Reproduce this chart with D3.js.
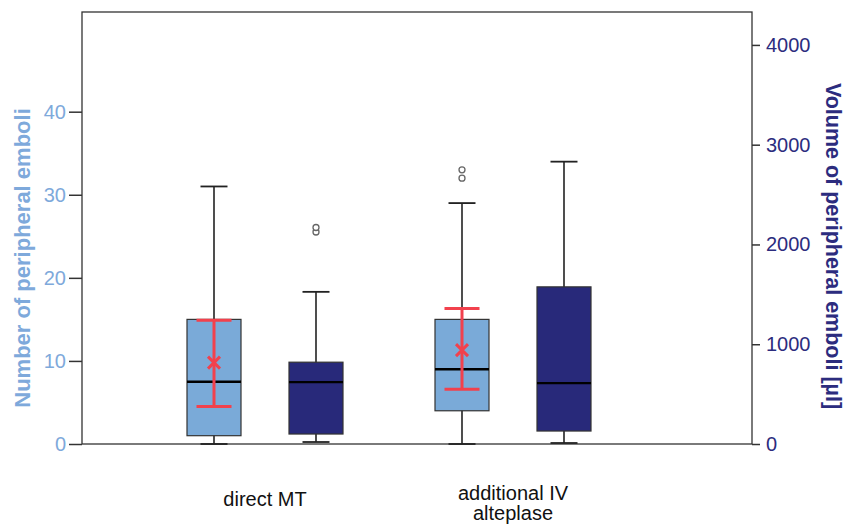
<!DOCTYPE html>
<html>
<head>
<meta charset="utf-8">
<script src="https://cdn.jsdelivr.net/npm/d3@7"></script>
<style>
  body { margin: 0; background: #fff; }
  svg { font-family: "Liberation Sans", Arial, sans-serif; }
</style>
</head>
<body>
<svg id="chart" width="860" height="524"></svg>
<script>
// groups on the x axis
var categories = ["direct MT", "additional IV alteplase"];

// number of peripheral emboli (left axis, light boxes)
var countLow = [0, 0];
var countQ1 = [1, 4];
var countMedian = [7.5, 9];
var countQ3 = [15, 15];
var countHigh = [31, 29];
var countOutliers = [[], [32, 33]];
var countMean = [9.8, 11.3];
var countCiLow = [4.5, 6.6];
var countCiHigh = [14.9, 16.3];

// volume of peripheral emboli (right axis, dark boxes)
var volumeLow = [20, 10];
var volumeQ1 = [100, 130];
var volumeMedian = [620, 610];
var volumeQ3 = [820, 1575];
var volumeHigh = [1525, 2830];
var volumeOutliers = [[2125, 2170], []];

var leftTicks = [0, 10, 20, 30, 40];
var rightTicks = [0, 1000, 2000, 3000, 4000];

var lightBlue = "#7aaad8", navy = "#28297a", red = "#f2414d", ink = "#333";

var svg = d3.select("#chart");
var plotLeft = 82, plotRight = 752, plotTop = 12, plotBottom = 444;

var x = d3.scaleBand().domain(categories).range([141, 637]);
var yL = d3.scaleLinear().domain([0, 52]).range([plotBottom, plotTop]);
var yR = d3.scaleLinear().domain([0, 4330]).range([plotBottom, plotTop]);

var offset = 51, boxW = 54, capW = 27, ciW = 35;

// frame
svg.append("rect")
  .attr("x", plotLeft).attr("y", plotTop)
  .attr("width", plotRight - plotLeft).attr("height", plotBottom - plotTop)
  .attr("fill", "none").attr("stroke", ink).attr("stroke-width", 1.3);

// build a flat list of boxes
var boxes = [];
categories.forEach(function(c, i){
  boxes.push({cat: c, cx: x(c) + x.bandwidth()/2 - offset, y: yL, fill: lightBlue,
    low: countLow[i], q1: countQ1[i], med: countMedian[i], q3: countQ3[i], high: countHigh[i], out: countOutliers[i]});
  boxes.push({cat: c, cx: x(c) + x.bandwidth()/2 + offset, y: yR, fill: navy,
    low: volumeLow[i], q1: volumeQ1[i], med: volumeMedian[i], q3: volumeQ3[i], high: volumeHigh[i], out: volumeOutliers[i]});
});

var g = svg.append("g");
boxes.forEach(function(b){
  var y = b.y;
  g.append("line").attr("x1", b.cx).attr("x2", b.cx)
    .attr("y1", y(b.high)).attr("y2", y(b.low))
    .attr("stroke", "#222").attr("stroke-width", 1.6);
  [b.high, b.low].forEach(function(v){
    g.append("line").attr("x1", b.cx - capW/2).attr("x2", b.cx + capW/2)
      .attr("y1", y(v)).attr("y2", y(v))
      .attr("stroke", "#222").attr("stroke-width", 1.8);
  });
  g.append("rect").attr("x", b.cx - boxW/2).attr("y", y(b.q3))
    .attr("width", boxW).attr("height", y(b.q1) - y(b.q3))
    .attr("fill", b.fill).attr("stroke", "#333").attr("stroke-width", 1.2);
  g.append("line").attr("x1", b.cx - boxW/2).attr("x2", b.cx + boxW/2)
    .attr("y1", y(b.med)).attr("y2", y(b.med))
    .attr("stroke", "#000").attr("stroke-width", 2.4);
  b.out.forEach(function(v){
    g.append("circle").attr("cx", b.cx).attr("cy", y(v)).attr("r", 3)
      .attr("fill", "#fff").attr("stroke", "#666").attr("stroke-width", 1.3);
  });
});

// mean with confidence interval on the light boxes
categories.forEach(function(c, i){
  var cx = x(c) + x.bandwidth()/2 - offset;
  g.append("line").attr("x1", cx).attr("x2", cx)
    .attr("y1", yL(countCiHigh[i])).attr("y2", yL(countCiLow[i]))
    .attr("stroke", red).attr("stroke-width", 3);
  [countCiHigh[i], countCiLow[i]].forEach(function(v){
    g.append("line").attr("x1", cx - ciW/2).attr("x2", cx + ciW/2)
      .attr("y1", yL(v)).attr("y2", yL(v))
      .attr("stroke", red).attr("stroke-width", 3);
  });
  var my = yL(countMean[i]), s = 6;
  g.append("path")
    .attr("d", "M" + (cx - s) + "," + (my - s) + "L" + (cx + s) + "," + (my + s) +
               "M" + (cx - s) + "," + (my + s) + "L" + (cx + s) + "," + (my - s))
    .attr("stroke", red).attr("stroke-width", 3);
});

// axes
var axL = svg.append("g").attr("transform", "translate(" + plotLeft + ",0)")
  .call(d3.axisLeft(yL).tickValues(leftTicks).tickSize(13).tickPadding(3));
axL.select(".domain").remove();
axL.selectAll("line").attr("stroke", ink).attr("stroke-width", 1.5);
axL.selectAll("text").attr("fill", "#7ea9db").style("font-size", "20px").style("font-family", "Liberation Sans, Arial, sans-serif");

var axR = svg.append("g").attr("transform", "translate(" + plotRight + ",0)")
  .call(d3.axisRight(yR).tickValues(rightTicks).tickFormat(d3.format("d")).tickSize(8).tickPadding(6));
axR.select(".domain").remove();
axR.selectAll("line").attr("stroke", ink).attr("stroke-width", 1.5);
axR.selectAll("text").attr("fill", "#2c2c7e").style("font-size", "20px").style("font-family", "Liberation Sans, Arial, sans-serif");

// axis titles
svg.append("text")
  .attr("transform", "translate(30,258) rotate(-90)")
  .attr("text-anchor", "middle").attr("fill", "#7ea9db")
  .style("font-size", "22px").style("font-weight", "bold")
  .text("Number of peripheral emboli");

svg.append("text")
  .attr("transform", "translate(826,246) rotate(90)")
  .attr("text-anchor", "middle").attr("fill", "#2c2c7e")
  .style("font-size", "21.5px").style("font-weight", "bold")
  .text("Volume of peripheral emboli [µl]");

// category labels
var catLines = [["direct MT"], ["additional IV", "alteplase"]];
categories.forEach(function(c, i){
  var t = svg.append("text").attr("text-anchor", "middle")
    .attr("x", x(c) + x.bandwidth()/2).attr("y", catLines[i].length > 1 ? 500 : 506)
    .style("font-size", "20px").attr("fill", "#111");
  catLines[i].forEach(function(s, j){
    t.append("tspan").attr("x", x(c) + x.bandwidth()/2).attr("dy", j ? 20 : 0).text(s);
  });
});
</script>
</body>
</html>
